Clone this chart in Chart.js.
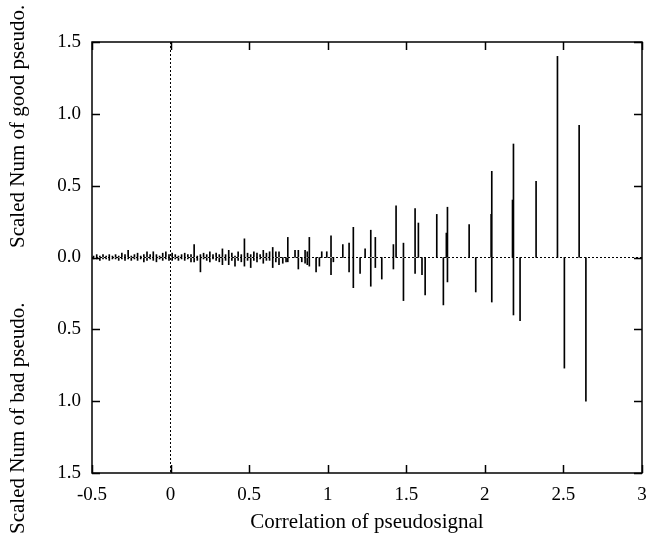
<!DOCTYPE html>
<html>
<head>
    <meta charset="utf-8"/>
    <title>Correlation of pseudosignal</title>
    <script src="https://cdn.jsdelivr.net/npm/chart.js"></script>
    <style>
        body {
            margin: 0;
            background-color: #ffffff;
        }

        #wrap {
            width: 649px;
            height: 544px;
        }
    </style>
</head>
<body>
    <div id="wrap">
        <canvas id="pseudoChart" width="649" height="544"></canvas>
    </div>

    <script>
        // Correlation bins (x) with scaled counts of good / bad pseudo
        const corr = [
            -0.49, -0.47, -0.45, -0.43, -0.41, -0.39, -0.37, -0.35, -0.33, -0.31,
            -0.29, -0.27, -0.25, -0.23, -0.21, -0.19, -0.17, -0.15, -0.13, -0.11,
            -0.09, -0.07, -0.05, -0.03, -0.01, 0.01, 0.03, 0.05, 0.07, 0.09,
            0.11, 0.13, 0.15, 0.17, 0.19, 0.21, 0.23, 0.25, 0.27, 0.29,
            0.31, 0.33, 0.35, 0.37, 0.39, 0.41, 0.43, 0.45, 0.47, 0.49,
            0.51, 0.53, 0.55, 0.57, 0.59, 0.61, 0.63, 0.65, 0.67, 0.69,
            0.714, 0.735, 0.746, 0.792, 0.813, 0.835, 0.856, 0.870, 0.883, 0.926,
            0.947, 0.962, 0.994, 1.021, 1.036, 1.096, 1.136, 1.163, 1.206, 1.238,
            1.274, 1.303, 1.344, 1.418, 1.435, 1.482, 1.556, 1.577, 1.600, 1.620,
            1.694, 1.736, 1.755, 1.762, 1.900, 1.942, 2.040, 2.044, 2.176, 2.182,
            2.224, 2.326, 2.462, 2.506, 2.600, 2.643
        ];
        const good = [
            0.01, 0.02, 0.01, 0.02, 0.01, 0.02, 0.01, 0.02, 0.01, 0.03,
            0.02, 0.05, 0.01, 0.02, 0.03, 0.01, 0.02, 0.04, 0.02, 0.04,
            0.02, 0.01, 0.03, 0.04, 0.02, 0.03, 0.02, 0.01, 0.02, 0.03,
            0.02, 0.02, 0.09, 0.01, 0.02, 0.03, 0.02, 0.04, 0.02, 0.03,
            0.02, 0.06, 0.02, 0.05, 0.03, 0.01, 0.04, 0.02, 0.13, 0.03,
            0.02, 0.04, 0.03, 0.02, 0.05, 0.03, 0.04, 0.07, 0.04, 0.04,
            0, 0, 0.14, 0.05, 0.05, 0, 0.05, 0.04, 0.14, 0,
            0, 0.04, 0.04, 0.15, 0, 0.09, 0.10, 0.21, 0, 0.06,
            0.19, 0.14, 0, 0.09, 0.36, 0.10, 0.34, 0.24, 0, 0,
            0.30, 0, 0.17, 0.35, 0.23, 0, 0.30, 0.60, 0.40, 0.79,
            0, 0.53, 1.40, 0, 0.92, 0
        ];
        const bad = [
            0.01, 0.01, 0.02, 0.01, 0.01, 0.02, 0.01, 0.01, 0.02, 0.01,
            0.02, 0.01, 0.02, 0.01, 0.02, 0.01, 0.03, 0.02, 0.01, 0.02,
            0.03, 0.01, 0.02, 0.01, 0.02, 0.02, 0.01, 0.02, 0.01, 0.02,
            0.01, 0.03, 0.03, 0.02, 0.10, 0.01, 0.02, 0.03, 0.01, 0.02,
            0.03, 0.05, 0.02, 0.05, 0.02, 0.06, 0.02, 0.03, 0.06, 0.02,
            0.07, 0.02, 0.03, 0.01, 0.04, 0.02, 0.02, 0.07, 0.03, 0.05,
            0.04, 0.03, 0.03, 0, 0.08, 0.03, 0.04, 0.05, 0.06, 0.10,
            0.06, 0, 0, 0.12, 0.03, 0, 0.10, 0.21, 0.11, 0,
            0.20, 0.07, 0.15, 0.08, 0, 0.30, 0.11, 0, 0.12, 0.26,
            0, 0.33, 0, 0.17, 0, 0.24, 0, 0.31, 0, 0.40,
            0.44, 0, 0, 0.77, 0, 1.00
        ];
        const xTicks = [-0.5, 0, 0.5, 1, 1.5, 2, 2.5, 3];
        const yTicks = [-1.5, -1.0, -0.5, 0, 0.5, 1.0, 1.5];
        const xTitle = 'Correlation of pseudosignal';
        const goodTitle = 'Scaled Num of good pseudo.';
        const badTitle = 'Scaled Num of bad pseudo.';

        const FONT = "'Liberation Serif', 'Times New Roman', serif";

        // gnuplot style frame: box round the plot, ticks pointing inwards, two y labels
        const framePlugin = {
            id: 'frame',
            afterDraw(chart) {
                const {ctx, chartArea: a, scales} = chart;
                const len = 8;
                ctx.save();
                ctx.strokeStyle = '#000';
                ctx.lineWidth = 1.5;
                ctx.beginPath();
                xTicks.forEach(v => {
                    const px = Math.round(scales.x.getPixelForValue(v)) + 0.5;
                    ctx.moveTo(px, a.bottom); ctx.lineTo(px, a.bottom - len);
                    ctx.moveTo(px, a.top); ctx.lineTo(px, a.top + len);
                });
                yTicks.forEach(v => {
                    const py = Math.round(scales.y.getPixelForValue(v)) + 0.5;
                    ctx.moveTo(a.left, py); ctx.lineTo(a.left + len, py);
                    ctx.moveTo(a.right, py); ctx.lineTo(a.right - len, py);
                });
                ctx.stroke();
                ctx.strokeRect(a.left, a.top, a.right - a.left, a.bottom - a.top);

                ctx.fillStyle = '#000';
                ctx.font = '21px ' + FONT;
                ctx.textBaseline = 'middle';
                ctx.textAlign = 'left';
                ctx.translate(18, 0);
                ctx.rotate(-Math.PI / 2);
                ctx.fillText(goodTitle, -248, 0);
                ctx.fillText(badTitle, -534, 0);
                ctx.restore();
            }
        };

        const toPoints = (vals, sign) => corr.map((x, i) => ({x: x, y: sign * vals[i]}));

        const ctx = document.getElementById('pseudoChart').getContext('2d');
        new Chart(ctx, {
            type: 'bar',
            data: {
                datasets: [{
                    label: 'good',
                    data: toPoints(good, 1),
                    backgroundColor: '#000',
                    barThickness: 1,
                    grouped: false
                }, {
                    label: 'bad',
                    data: toPoints(bad, -1),
                    backgroundColor: '#000',
                    barThickness: 1,
                    grouped: false
                }]
            },
            plugins: [framePlugin],
            options: {
                responsive: false,
                animation: false,
                layout: {
                    padding: {top: 42, right: 7, left: 0, bottom: 0}
                },
                plugins: {
                    legend: {display: false},
                    tooltip: {enabled: false}
                },
                scales: {
                    x: {
                        type: 'linear',
                        offset: false,
                        min: -0.5,
                        max: 3,
                        afterBuildTicks: scale => {
                            scale.ticks = xTicks.map(v => ({value: v}));
                        },
                        afterFit: scale => {
                            scale.height = 71;
                            scale.paddingLeft = 0;
                            scale.paddingRight = 0;
                        },
                        grid: {
                            offset: false,
                            drawTicks: false,
                            color: c => (c.tick && c.tick.value === 0) ? '#000' : 'rgba(0,0,0,0)',
                            lineWidth: 1
                        },
                        border: {display: false, dash: [2, 2]},
                        ticks: {
                            padding: 11,
                            maxRotation: 0,
                            color: '#000',
                            font: {family: FONT, size: 19},
                            callback: v => String(v)
                        },
                        title: {
                            display: true,
                            text: xTitle,
                            color: '#000',
                            font: {family: FONT, size: 21},
                            padding: {top: 0, bottom: 9}
                        }
                    },
                    y: {
                        min: -1.5,
                        max: 1.5,
                        afterBuildTicks: scale => {
                            scale.ticks = yTicks.map(v => ({value: v}));
                        },
                        afterFit: scale => {
                            scale.width = 92;
                        },
                        grid: {
                            drawTicks: false,
                            color: c => (c.tick && c.tick.value === 0) ? '#000' : 'rgba(0,0,0,0)',
                            lineWidth: 1
                        },
                        border: {display: false, dash: [2, 2]},
                        ticks: {
                            padding: 11,
                            color: '#000',
                            font: {family: FONT, size: 19},
                            callback: v => Math.abs(v).toFixed(1)
                        }
                    }
                }
            }
        });
    </script>
</body>
</html>
